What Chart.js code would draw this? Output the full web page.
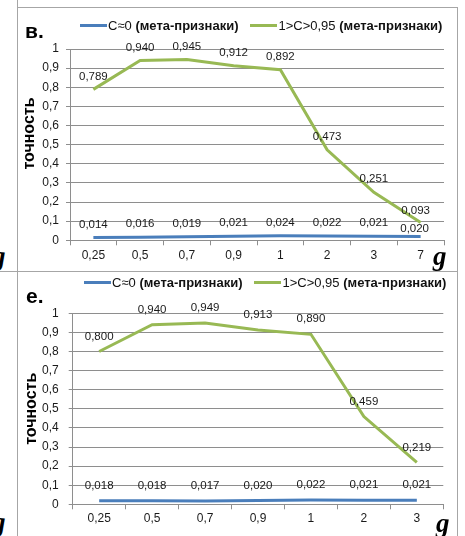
<!DOCTYPE html>
<html>
<head>
<meta charset="utf-8">
<script src="https://cdn.jsdelivr.net/npm/chart.js@4.4.1/dist/chart.umd.min.js"></script>
<style>
    body { margin: 0; width: 465px; height: 536px; background: #fff; position: relative; overflow: hidden; font-family: "Liberation Sans", Arial, sans-serif; color: #111; }
    .line { position: absolute; background: #a6a6a6; }
    canvas { position: absolute; }
    .letter { position: absolute; font: bold 21px "Liberation Sans", Arial, sans-serif; line-height: 21px; color: #000; }
    .g { position: absolute; font: italic bold 27px "Liberation Serif", "Times New Roman", serif; line-height: 27px; color: #000; }
    .legend { position: absolute; display: flex; align-items: center; gap: 12px; font-size: 13px; line-height: 15px; color: #111; white-space: nowrap; }
    .legend .item { display: flex; align-items: center; }
    .legend .swatch { display: inline-block; width: 27px; height: 3px; margin-right: 1px; }
    .legend b { font-weight: bold; }
    .frag { position: absolute; font: bold 13px "Liberation Sans", Arial, sans-serif; line-height: 13px; }
</style>
</head>
<body>
<div class="line" style="left:17px;top:0;width:1px;height:536px"></div>
<div class="line" style="left:17px;top:7px;width:441px;height:1px"></div>
<div class="line" style="left:457px;top:7px;width:1px;height:529px"></div>
<div class="line" style="left:0;top:271px;width:458px;height:1px"></div>

<div class="frag" style="left:-22px;top:276px">ки)</div>
<div class="g" style="left:-8px;top:243px">g</div>
<div class="g" style="left:-8px;top:509px">g</div>

<canvas id="chart1" width="439" height="263" style="left:18px;top:8px"></canvas>
<canvas id="chart2" width="439" height="264" style="left:18px;top:272px"></canvas>

<div class="letter" style="left:25px;top:20px">в.</div>
<div class="letter" style="left:26px;top:285px">е.</div>
<div class="g" style="left:433px;top:243px">g</div>
<div class="g" style="left:436px;top:510px">g</div>
<div class="legend" id="legend1" style="left:80px;top:18px"></div>
<div class="legend" id="legend2" style="left:84px;top:275px"></div>

<script>
// подписи и значения
const seriesNames = ["C≈0", "1>C>0,95"];
const seriesSuffix = "(мета-признаки)";
const seriesColors = ["#4a7ebb", "#98b954"];
const yTitle = "точность";

const labelsB = ["0,25", "0,5", "0,7", "0,9", "1", "2", "3", "7"];
const zeroB = [0.014, 0.016, 0.019, 0.021, 0.024, 0.022, 0.021, 0.020];
const highB = [0.789, 0.940, 0.945, 0.912, 0.892, 0.473, 0.251, 0.093];

const labelsE = ["0,25", "0,5", "0,7", "0,9", "1", "2", "3"];
const zeroE = [0.018, 0.018, 0.017, 0.020, 0.022, 0.021, 0.021];
const highE = [0.800, 0.940, 0.949, 0.913, 0.890, 0.459, 0.219];

const yTicks = { min: 0, max: 1, step: 0.1 };

const valueLabels = {
    id: "valueLabels",
    afterDatasetsDraw(chart, args, opts) {
        const ctx = chart.ctx;
        ctx.save();
        ctx.font = '11.5px "Liberation Sans", Arial, sans-serif';
        ctx.fillStyle = "#1a1a1a";
        ctx.textAlign = "center";
        ctx.textBaseline = "middle";
        chart.data.datasets.forEach((ds, di) => {
            chart.getDatasetMeta(di).data.forEach((pt, i) => {
                const sh = (opts.shift && opts.shift[di + ":" + i]) || [0, 0];
                const txt = ds.data[i].toFixed(3).replace(".", ",");
                ctx.fillText(txt, pt.x + sh[0], pt.y - opts.offset + sh[1]);
            });
        });
        ctx.restore();
    }
};

function makeLegend(dom) {
    seriesNames.forEach((name, i) => {
        const item = document.createElement("span");
        item.className = "item";
        item.innerHTML = `<span class="swatch" style="background:${seriesColors[i]}"></span>${name}&nbsp;<b>${seriesSuffix}</b>`;
        dom.appendChild(item);
    });
}

function createConfig(labels, zero, high, g) {
    return {
        type: "line",
        data: {
            labels: labels,
            datasets: [zero, high].map((d, i) => ({
                label: seriesNames[i] + " " + seriesSuffix,
                data: d,
                borderColor: seriesColors[i],
                backgroundColor: seriesColors[i],
                borderWidth: 3,
                pointRadius: 0,
                tension: 0
            }))
        },
        options: {
            responsive: false,
            animation: false,
            layout: { padding: { left: 0, right: g.right, top: g.top, bottom: 0 } },
            plugins: {
                legend: { display: false },
                tooltip: { enabled: false },
                valueLabels: { offset: g.offset, shift: g.shift }
            },
            scales: {
                x: {
                    offset: true,
                    afterFit: s => { s.height = g.xHeight; },
                    grid: { offset: true, drawOnChartArea: false, drawTicks: true, tickLength: 5, color: "#8e8e8e" },
                    border: { color: "#8e8e8e" },
                    ticks: { color: "#1a1a1a", font: { family: "Liberation Sans", size: 12 }, padding: g.xPad, autoSkip: false, maxRotation: 0 }
                },
                y: {
                    min: yTicks.min,
                    max: yTicks.max,
                    afterFit: s => { s.width = g.yWidth; },
                    grid: { color: "#8e8e8e", tickLength: 4 },
                    border: { color: "#8e8e8e" },
                    ticks: {
                        stepSize: yTicks.step,
                        color: "#1a1a1a",
                        font: { family: "Liberation Sans", size: 12 },
                        padding: g.yPad,
                        callback: v => String(+v.toFixed(1)).replace(".", ",")
                    },
                    title: {
                        display: true,
                        text: g.titlePrefix + yTitle,
                        color: "#000",
                        font: { family: "Liberation Sans", size: 16, weight: "bold" },
                        padding: { top: g.titleTop, bottom: 0 }
                    }
                }
            }
        },
        plugins: [valueLabels]
    };
}

makeLegend(document.getElementById("legend1"));
makeLegend(document.getElementById("legend2"));

const charts = [
    new Chart(document.getElementById("chart1"), createConfig(labelsB, zeroB, highB, {
        right: 13, top: 41, xHeight: 30.7, yWidth: 52, xPad: 3, yPad: 7,
        titleTop: 2.4, titlePrefix: "\u00a0\u00a0\u00a0\u00a0\u00a0",
        offset: 13, shift: { "0:7": [-6, 5], "1:7": [-5, 1] }
    })),
    new Chart(document.getElementById("chart2"), createConfig(labelsE, zeroE, highE, {
        right: 13.7, top: 41.3, xHeight: 31.7, yWidth: 54.7, xPad: 2, yPad: 10,
        titleTop: 4.4, titlePrefix: "",
        offset: 15, shift: {}
    }))
];
</script>
</body>
</html>
